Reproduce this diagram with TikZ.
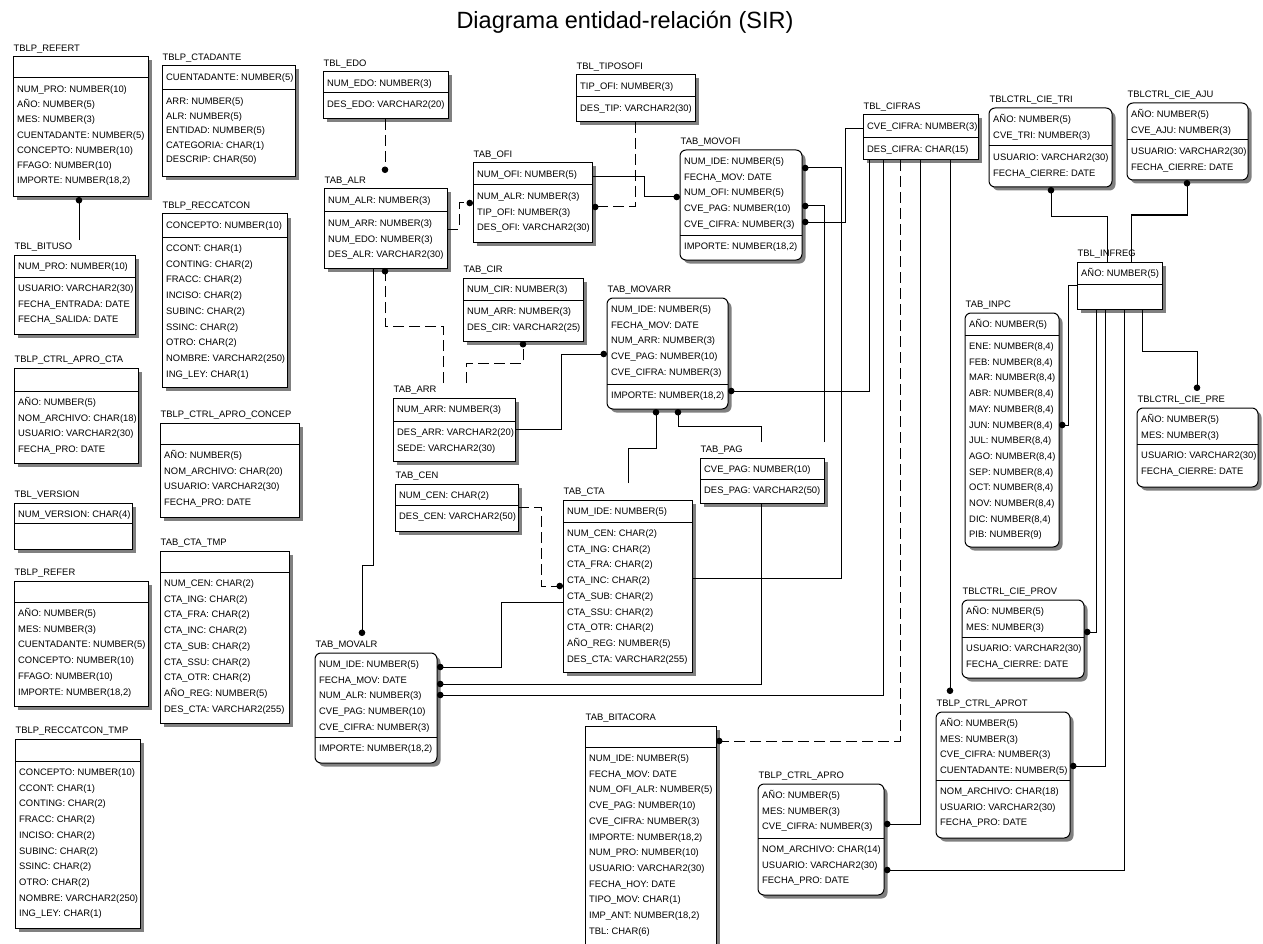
\documentclass[tikz,border=0pt]{standalone}
\usepackage{fontspec}
\setmainfont{Liberation Sans}
\usetikzlibrary{arrows.meta,shadows}

% rows of an entity section, one \nxt between rows
\newcommand\nxt{\egroup\hbox\bgroup}
\newcommand\rsp{15.7}
\newcommand\rowsbox[1]{\vtop{\baselineskip=\rsp pt\lineskiplimit=-100pt\lineskip=0pt\hbox\bgroup#1\egroup}}

\tikzset{
  box/.style={draw, fill=white, line width=1pt, inner sep=0pt, outer sep=0pt,
    anchor=north west,
    drop shadow={shadow xshift=3.5pt, shadow yshift=-3.5pt, fill=black!50, opacity=1}},
  sq/.style={},
  rd/.style={rounded corners=6pt},
  txt/.style={font=\fontsize{9.4}{11}\selectfont, inner sep=0pt, anchor=base west},
  lbl/.style={font=\fontsize{9.4}{11}\selectfont, inner sep=0pt, anchor=west,
    text height=6.7pt, text depth=0pt},
  divline/.style={line width=1pt},
  rel/.style={line width=1pt, -{Circle[length=6.5pt]}},
  nid/.style={rel, dash pattern=on 11pt off 5pt},
}

% #1 name, #2 corner style, #3 left, #4 top, #5 right, #6 divider, #7 bottom,
% #8 key rows, #9 other rows
\newcommand\ent[9]{%
  \node[box,#2,minimum width={#5pt-#3pt},minimum height={#7pt-#4pt}] (#1) at (#3,#4) {};
  \coordinate (#1-d) at (#3,#6);
  \draw[divline] (#1-d) -- (#1.east |- #1-d);
  \node[txt] (#1-k) at ([xshift=4pt,yshift=-14.5pt]#1.north west) {\rowsbox{#8}};
  \node[txt] (#1-a) at ([xshift=4pt,yshift=-14.5pt]#1-d) {\rowsbox{#9}};
}
% entity name written above its box
\newcommand\lab[2]{\node[lbl] (#1-t) at ([xshift=0.5pt,yshift=8.5pt]#1.north west) {#2};}

\begin{document}
\begin{tikzpicture}[x=1pt,y=-1pt]
\useasboundingbox[fill=white] (0,0) rectangle (1263,944);

\node[font=\fontsize{23.5}{28}\selectfont, inner sep=0pt] (title) at (625,22) {Diagrama entidad-relación (SIR)};

% ---------- left columns ----------
\renewcommand\rsp{15.2}
\ent{refert}{sq}{13}{57}{148}{78}{197}{}{NUM\_PRO: NUMBER(10)\nxt AÑO: NUMBER(5)\nxt MES: NUMBER(3)\nxt CUENTADANTE: NUMBER(5)\nxt CONCEPTO: NUMBER(10)\nxt FFAGO: NUMBER(10)\nxt IMPORTE: NUMBER(18,2)}
\lab{refert}{TBLP\_REFERT}
\renewcommand\rsp{15.7}

\ent{bituso}{sq}{14}{255}{135}{277}{334}{NUM\_PRO: NUMBER(10)}{USUARIO: VARCHAR2(30)\nxt FECHA\_ENTRADA: DATE\nxt FECHA\_SALIDA: DATE}
\lab{bituso}{TBL\_BITUSO}

\ent{aprocta}{sq}{14}{368}{138}{391}{463}{}{AÑO: NUMBER(5)\nxt NOM\_ARCHIVO: CHAR(18)\nxt USUARIO: VARCHAR2(30)\nxt FECHA\_PRO: DATE}
\lab{aprocta}{TBLP\_CTRL\_APRO\_CTA}

\ent{version}{sq}{14}{503}{132}{523}{549}{NUM\_VERSION: CHAR(4)}{}
\lab{version}{TBL\_VERSION}

\ent{refer}{sq}{14}{581}{148}{602}{706}{}{AÑO: NUMBER(5)\nxt MES: NUMBER(3)\nxt CUENTADANTE: NUMBER(5)\nxt CONCEPTO: NUMBER(10)\nxt FFAGO: NUMBER(10)\nxt IMPORTE: NUMBER(18,2)}
\lab{refer}{TBLP\_REFER}

\ent{recctmp}{sq}{15}{739}{140}{761}{928}{}{CONCEPTO: NUMBER(10)\nxt CCONT: CHAR(1)\nxt CONTING: CHAR(2)\nxt FRACC: CHAR(2)\nxt INCISO: CHAR(2)\nxt SUBINC: CHAR(2)\nxt SSINC: CHAR(2)\nxt OTRO: CHAR(2)\nxt NOMBRE: VARCHAR2(250)\nxt ING\_LEY: CHAR(1)}
\lab{recctmp}{TBLP\_RECCATCON\_TMP}

\renewcommand\rsp{14.6}
\ent{ctadante}{sq}{162}{66}{295}{90}{177}{CUENTADANTE: NUMBER(5)}{ARR: NUMBER(5)\nxt ALR: NUMBER(5)\nxt ENTIDAD: NUMBER(5)\nxt CATEGORIA: CHAR(1)\nxt DESCRIP: CHAR(50)}
\lab{ctadante}{TBLP\_CTADANTE}
\renewcommand\rsp{15.7}

\ent{reccat}{sq}{162}{214}{287}{237}{387}{CONCEPTO: NUMBER(10)}{CCONT: CHAR(1)\nxt CONTING: CHAR(2)\nxt FRACC: CHAR(2)\nxt INCISO: CHAR(2)\nxt SUBINC: CHAR(2)\nxt SSINC: CHAR(2)\nxt OTRO: CHAR(2)\nxt NOMBRE: VARCHAR2(250)\nxt ING\_LEY: CHAR(1)}
\lab{reccat}{TBLP\_RECCATCON}

\ent{aproconcep}{sq}{160}{423}{299}{444}{517}{}{AÑO: NUMBER(5)\nxt NOM\_ARCHIVO: CHAR(20)\nxt USUARIO: VARCHAR2(30)\nxt FECHA\_PRO: DATE}
\lab{aproconcep}{TBLP\_CTRL\_APRO\_CONCEP}

\ent{ctatmp}{sq}{160}{551}{289}{572}{723}{}{NUM\_CEN: CHAR(2)\nxt CTA\_ING: CHAR(2)\nxt CTA\_FRA: CHAR(2)\nxt CTA\_INC: CHAR(2)\nxt CTA\_SUB: CHAR(2)\nxt CTA\_SSU: CHAR(2)\nxt CTA\_OTR: CHAR(2)\nxt AÑO\_REG: NUMBER(5)\nxt DES\_CTA: VARCHAR2(255)}
\lab{ctatmp}{TAB\_CTA\_TMP}

% ---------- centre ----------
\ent{edo}{sq}{323}{72}{448}{93}{119}{NUM\_EDO: NUMBER(3)}{DES\_EDO: VARCHAR2(20)}
\lab{edo}{TBL\_EDO}

\ent{alr}{sq}{324}{189}{447}{212}{268}{NUM\_ALR: NUMBER(3)}{NUM\_ARR: NUMBER(3)\nxt NUM\_EDO: NUMBER(3)\nxt DES\_ALR: VARCHAR2(30)}
\lab{alr}{TAB\_ALR}

\ent{ofi}{sq}{473}{163}{592}{185}{242}{NUM\_OFI: NUMBER(5)}{NUM\_ALR: NUMBER(3)\nxt TIP\_OFI: NUMBER(3)\nxt DES\_OFI: VARCHAR2(30)}
\lab{ofi}{TAB\_OFI}

\ent{tiposofi}{sq}{576}{75}{695}{97}{122}{TIP\_OFI: NUMBER(3)}{DES\_TIP: VARCHAR2(30)}
\lab{tiposofi}{TBL\_TIPOSOFI}

\ent{movofi}{rd}{680}{150}{802}{235}{260}{NUM\_IDE: NUMBER(5)\nxt FECHA\_MOV: DATE\nxt NUM\_OFI: NUMBER(5)\nxt CVE\_PAG: NUMBER(10)\nxt CVE\_CIFRA: NUMBER(3)}{IMPORTE: NUMBER(18,2)}
\lab{movofi}{TAB\_MOVOFI}

\ent{cir}{sq}{463}{278}{583}{300}{341}{NUM\_CIR: NUMBER(3)}{NUM\_ARR: NUMBER(3)\nxt DES\_CIR: VARCHAR2(25)}
\lab{cir}{TAB\_CIR}

\ent{movarr}{rd}{607}{298}{728}{384}{409}{NUM\_IDE: NUMBER(5)\nxt FECHA\_MOV: DATE\nxt NUM\_ARR: NUMBER(3)\nxt CVE\_PAG: NUMBER(10)\nxt CVE\_CIFRA: NUMBER(3)}{IMPORTE: NUMBER(18,2)}
\lab{movarr}{TAB\_MOVARR}

\ent{arr}{sq}{393}{398}{515}{421}{461}{NUM\_ARR: NUMBER(3)}{DES\_ARR: VARCHAR2(20)\nxt SEDE: VARCHAR2(30)}
\lab{arr}{TAB\_ARR}

\ent{cen}{sq}{395}{484}{518}{505}{531}{NUM\_CEN: CHAR(2)}{DES\_CEN: VARCHAR2(50)}
\lab{cen}{TAB\_CEN}

\ent{cta}{sq}{563}{500}{692}{522}{672}{NUM\_IDE: NUMBER(5)}{NUM\_CEN: CHAR(2)\nxt CTA\_ING: CHAR(2)\nxt CTA\_FRA: CHAR(2)\nxt CTA\_INC: CHAR(2)\nxt CTA\_SUB: CHAR(2)\nxt CTA\_SSU: CHAR(2)\nxt CTA\_OTR: CHAR(2)\nxt AÑO\_REG: NUMBER(5)\nxt DES\_CTA: VARCHAR2(255)}
\lab{cta}{TAB\_CTA}

\ent{pag}{sq}{700}{458}{824}{479}{503}{CVE\_PAG: NUMBER(10)}{DES\_PAG: VARCHAR2(50)}
\lab{pag}{TAB\_PAG}

\ent{movalr}{rd}{315}{653}{437}{737}{763}{NUM\_IDE: NUMBER(5)\nxt FECHA\_MOV: DATE\nxt NUM\_ALR: NUMBER(3)\nxt CVE\_PAG: NUMBER(10)\nxt CVE\_CIFRA: NUMBER(3)}{IMPORTE: NUMBER(18,2)}
\lab{movalr}{TAB\_MOVALR}

\ent{bitacora}{sq}{585}{726}{716}{747}{950}{}{NUM\_IDE: NUMBER(5)\nxt FECHA\_MOV: DATE\nxt NUM\_OFI\_ALR: NUMBER(5)\nxt CVE\_PAG: NUMBER(10)\nxt CVE\_CIFRA: NUMBER(3)\nxt IMPORTE: NUMBER(18,2)\nxt NUM\_PRO: NUMBER(10)\nxt USUARIO: VARCHAR2(30)\nxt FECHA\_HOY: DATE\nxt TIPO\_MOV: CHAR(1)\nxt IMP\_ANT: NUMBER(18,2)\nxt TBL: CHAR(6)}
\lab{bitacora}{TAB\_BITACORA}

% ---------- right side ----------
\ent{cifras}{sq}{863}{115}{978}{138}{160}{CVE\_CIFRA: NUMBER(3)}{DES\_CIFRA: CHAR(15)}
\lab{cifras}{TBL\_CIFRAS}

\ent{cietri}{rd}{989}{108}{1112}{146}{187}{AÑO: NUMBER(5)\nxt CVE\_TRI: NUMBER(3)}{USUARIO: VARCHAR2(30)\nxt FECHA\_CIERRE: DATE}
\lab{cietri}{TBLCTRL\_CIE\_TRI}

\ent{cieaju}{rd}{1127}{103}{1248}{140}{180}{AÑO: NUMBER(5)\nxt CVE\_AJU: NUMBER(3)}{USUARIO: VARCHAR2(30)\nxt FECHA\_CIERRE: DATE}
\lab{cieaju}{TBLCTRL\_CIE\_AJU}

\ent{infreg}{sq}{1077}{262}{1162}{284}{309}{AÑO: NUMBER(5)}{}
\lab{infreg}{TBL\_INFREG}

\ent{inpc}{rd}{965}{313}{1059}{335}{547}{AÑO: NUMBER(5)}{ENE: NUMBER(8,4)\nxt FEB: NUMBER(8,4)\nxt MAR: NUMBER(8,4)\nxt ABR: NUMBER(8,4)\nxt MAY: NUMBER(8,4)\nxt JUN: NUMBER(8,4)\nxt JUL: NUMBER(8,4)\nxt AGO: NUMBER(8,4)\nxt SEP: NUMBER(8,4)\nxt OCT: NUMBER(8,4)\nxt NOV: NUMBER(8,4)\nxt DIC: NUMBER(8,4)\nxt PIB: NUMBER(9)}
\lab{inpc}{TAB\_INPC}

\ent{ciepre}{rd}{1137}{408}{1258}{444}{487}{AÑO: NUMBER(5)\nxt MES: NUMBER(3)}{USUARIO: VARCHAR2(30)\nxt FECHA\_CIERRE: DATE}
\lab{ciepre}{TBLCTRL\_CIE\_PRE}

\ent{cieprov}{rd}{962}{600}{1084}{637}{678}{AÑO: NUMBER(5)\nxt MES: NUMBER(3)}{USUARIO: VARCHAR2(30)\nxt FECHA\_CIERRE: DATE}
\lab{cieprov}{TBLCTRL\_CIE\_PROV}

\ent{aprot}{rd}{936}{712}{1070}{780}{838}{AÑO: NUMBER(5)\nxt MES: NUMBER(3)\nxt CVE\_CIFRA: NUMBER(3)\nxt CUENTADANTE: NUMBER(5)}{NOM\_ARCHIVO: CHAR(18)\nxt USUARIO: VARCHAR2(30)\nxt FECHA\_PRO: DATE}
\lab{aprot}{TBLP\_CTRL\_APROT}

\ent{apro}{rd}{758}{784}{884}{838}{895}{AÑO: NUMBER(5)\nxt MES: NUMBER(3)\nxt CVE\_CIFRA: NUMBER(3)}{NOM\_ARCHIVO: CHAR(14)\nxt USUARIO: VARCHAR2(30)\nxt FECHA\_PRO: DATE}
\lab{apro}{TBLP\_CTRL\_APRO}

% ---------- free ends of relationships (above entity names) ----------
\coordinate (bituso-in) at (79,240);
\coordinate (alr-in) at (385,173);
\coordinate (arr-out1) at (443,383);
\coordinate (arr-out2) at (466,383);
\coordinate (movalr-in) at (362,636);
\coordinate (cta-out) at (628,483);
\coordinate (pag-out1) at (761,442);
\coordinate (pag-out2) at (824,442);
\coordinate (aprot-in) at (950,694);
\coordinate (ciepre-in) at (1197,391);

% ---------- relationships ----------
\draw[rel] (bituso-in) -- (refert.south -| bituso-in);
\draw[nid] (edo.south -| alr-in) -- (alr-in);
\draw[nid] (alr.east |- 0,229) -- (459,229) |- (ofi.west |- 0,203);
\draw[nid] (tiposofi.south -| 635,0) |- (ofi.east |- 0,207);
\draw[rel] (ofi.east |- 0,177) -- (644,177) |- (movofi.west |- 0,197);
\draw[nid] (arr-out1) |- (385,326) -- (alr.south -| 385,0);
\draw[nid] (arr-out2) |- (523,363) -- (cir.south -| 523,0);
\draw[rel] (arr.east |- 0,429) -| (561,354) -- (movarr.west |- 0,354);
\draw[rel] (alr.south -| 373,0) |- (362,565) -- (movalr-in);
\draw[nid] (cen.east |- 0,507) -| (541,586) -- (cta.west |- 0,586);
\draw[rel] (cta.west |- 0,602) -| (501,667) -- (movalr.east |- 0,667);
\draw[rel] (cta-out) |- (656,448) -- (movarr.south -| 656,0);
\draw[rel] (cta.east |- 0,578) -| (841,168) -- (movofi.east |- 0,168);
\draw[rel] (pag-out2) |- (movofi.east |- 0,206);
\draw[rel] (pag-out1) |- (678,426) -- (movarr.south -| 678,0);
\draw[rel] (pag.south -| 761,0) |- (movalr.east |- 0,684);
\draw[rel] (cifras.west |- 0,129) -| (845,222) -- (movofi.east |- 0,222);
\draw[rel] (cifras.south -| 869,0) |- (movarr.east |- 0,391);
\draw[rel] (cifras.south -| 883,0) |- (movalr.east |- 0,695);
\draw[nid] (cifras.south -| 900,0) |- (bitacora.east |- 0,741);
\draw[rel] (cifras.south -| 920,0) |- (apro.east |- 0,824);
\draw[rel] (cifras.south -| 950,0) -- (aprot-in);
\draw[rel] (infreg.north -| 1107,0) |- (1051,216) -- (cietri.south -| 1051,0);
\draw[rel] (infreg.north -| 1131,0) |- (1187,215) -- (cieaju.south -| 1187,0);
\draw[rel] (infreg.west |- 0,285) -| (1068,425) -- (inpc.east |- 0,425);
\draw[rel] (infreg.south -| 1096,0) |- (cieprov.east |- 0,632);
\draw[rel] (infreg.south -| 1105,0) |- (aprot.east |- 0,766);
\draw[rel] (infreg.south -| 1124,0) |- (apro.east |- 0,870);
\draw[rel] (infreg.south -| 1142,0) |- (1197,351) -- (ciepre-in);
\end{tikzpicture}
\end{document}
